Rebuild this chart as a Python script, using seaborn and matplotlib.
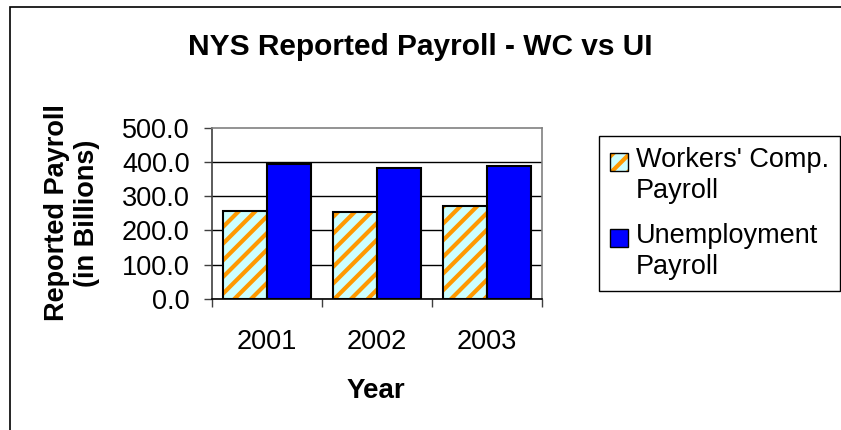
import matplotlib
matplotlib.use("Agg")
import matplotlib.pyplot as plt
import matplotlib.patches as mpatches
from matplotlib.legend_handler import HandlerPatch, HandlerTuple
import seaborn as sns
import pandas as pd

# ---- data ----
years = ["2001", "2002", "2003"]
series_names = ["Workers' Comp.\nPayroll", "Unemployment\nPayroll"]
wc_payroll = [256.0, 255.0, 272.0]
ui_payroll = [394.0, 383.0, 389.0]
y_ticks = [0, 100, 200, 300, 400, 500]

sns.set_theme(style="white")
plt.rcParams["font.family"] = ["Liberation Sans", "DejaVu Sans"]
plt.rcParams["hatch.linewidth"] = 3.0
plt.rcParams["hatch.color"] = "#FF9900"
for k in ["text.color", "axes.labelcolor", "xtick.color", "ytick.color"]:
    plt.rcParams[k] = "black"

df = pd.DataFrame({
    "Year": years * 2,
    "Series": [series_names[0]] * 3 + [series_names[1]] * 3,
    "Value": wc_payroll + ui_payroll,
})

W, H = 841, 430
fig = plt.figure(figsize=(W / 100, H / 100), dpi=100)
fig.patch.set_facecolor("white")
ax = fig.add_axes([212 / W, 1 - 299 / H, 330 / W, (299 - 127.7) / H])

sns.barplot(data=df, x="Year", y="Value", hue="Series", order=years,
            hue_order=series_names,
            palette={series_names[0]: "#CCFFFF", series_names[1]: "#0000FF"},
            width=0.8, saturation=1, legend=False, ax=ax, zorder=3)

HATCH = "//"
wc_bars = ax.containers[0]
ui_bars = ax.containers[1]
for p in wc_bars:
    p.set_facecolor("#CCFFFF")
    p.set_hatch(HATCH)
    if hasattr(p, "set_hatchcolor"):
        p.set_hatchcolor("#FF9900")
        p.set_edgecolor("black")
        p.set_linewidth(1.5)
    else:
        p.set_edgecolor("#FF9900")
        p.set_linewidth(0)
        ax.add_patch(mpatches.Rectangle(p.get_xy(), p.get_width(), p.get_height(),
                                        fill=False, edgecolor="black", linewidth=1.5, zorder=4))
for p in ui_bars:
    p.set_facecolor("#0000FF")
    p.set_edgecolor("black")
    p.set_linewidth(1.5)

ax.set_ylim(0, 500)
ax.set_xlim(-0.5, 2.5)
ax.set_yticks(y_ticks)
ax.set_yticklabels([f"{v:.1f}" for v in y_ticks])
ax.set_xlabel("")
ax.set_ylabel("")

# grid
ax.yaxis.grid(True, color="black", linewidth=1.0, zorder=0)
ax.set_axisbelow(True)
for gl in ax.get_ygridlines()[-1:]:
    gl.set_visible(False)
ax.xaxis.grid(False)

for side in ["top", "right"]:
    ax.spines[side].set_visible(True)
    ax.spines[side].set_color("#808080")
    ax.spines[side].set_linewidth(1.2)
ax.spines["left"].set_color("#404040")
ax.spines["left"].set_linewidth(1.2)
ax.spines["bottom"].set_color("black")
ax.spines["bottom"].set_linewidth(1.2)

ax.tick_params(axis="y", which="major", direction="out", length=6, width=1,
               color="#404040", pad=10, labelsize=19.5, labelcolor="black", left=True)
ax.set_xticks([-0.5, 0.5, 1.5, 2.5], minor=True)
ax.tick_params(axis="x", which="minor", direction="out", length=5.5, width=1,
               color="#404040", bottom=True)
ax.tick_params(axis="x", which="major", length=0, pad=21.5, labelsize=19.5,
               labelcolor="black")

# texts
fig.text(420 / W, 1 - 55 / H, "NYS Reported Payroll - WC vs UI", ha="center",
         va="baseline", fontsize=21.5, fontweight="bold", color="black")
fig.text(72 / W, 1 - 213 / H, "Reported Payroll\n(in Billions)", rotation=90,
         ha="center", va="center", multialignment="center", fontsize=19.5,
         fontweight="bold", linespacing=1.25, color="black")
fig.text(376 / W, 1 - 398 / H, "Year", ha="center", va="baseline",
         fontsize=20, fontweight="bold", color="black")


# legend: handle aligned with the first line of each label
def top_patch(legend, orig_handle, xdescent, ydescent, width, height, fontsize):
    return mpatches.Rectangle((-xdescent, -ydescent + 10), width, height)


h1_fill = mpatches.Patch(facecolor="#CCFFFF", edgecolor="#FF9900", hatch="//", linewidth=0)
h1_edge = mpatches.Patch(fill=False, edgecolor="black", linewidth=1)
h2 = mpatches.Patch(facecolor="#0000FF", edgecolor="black", linewidth=1)
leg = fig.legend([(h1_fill, h1_edge), h2], series_names, loc="upper left",
                 bbox_to_anchor=(599 / W, 1 - 136 / H), bbox_transform=fig.transFigure,
                 fontsize=19.5, frameon=True, fancybox=False, borderaxespad=0,
                 borderpad=0.4, handlelength=0.67, handleheight=0.67,
                 handletextpad=0.3, labelspacing=0.7,
                 handler_map={mpatches.Patch: HandlerPatch(patch_func=top_patch),
                              tuple: HandlerTuple(ndivide=1, pad=0)})
for t in leg.get_texts():
    t.set_linespacing(1.25)
    t.set_color("black")
leg.get_frame().set_edgecolor("black")
leg.get_frame().set_linewidth(1.0)
leg.get_frame().set_alpha(1)

# outer frame
fig.add_artist(mpatches.Rectangle((10 / W, -0.05), 1.2, 1 - 7 / H + 0.05,
                                  transform=fig.transFigure, fill=False,
                                  edgecolor="black", linewidth=1.2))

fig.savefig("out.png", dpi=100, facecolor="white")
